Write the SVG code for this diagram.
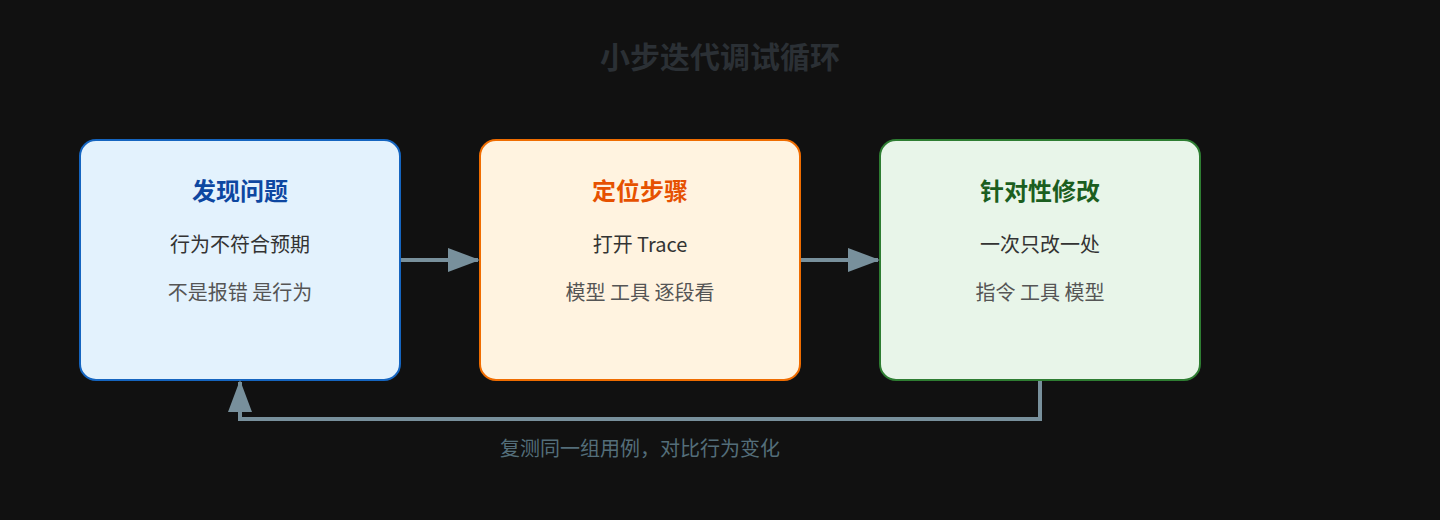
<svg xmlns="http://www.w3.org/2000/svg" width="1440" height="520" viewBox="0 0 1440 520">
<style>
text{font-family:"Noto Sans CJK SC","Noto Sans",sans-serif;text-anchor:middle}
.t{font-size:24px;font-weight:bold}
.l1{font-size:20px;fill:#333}
.l2{font-size:20px;fill:#555}
.c{stroke:#78909c;stroke-width:4;fill:none}
</style>
<defs>
<marker id="a" markerWidth="8" markerHeight="6" refX="7.5" refY="3" orient="auto" markerUnits="strokeWidth"><path d="M0,0L8,3L0,6Z" fill="#78909c" stroke="none"/></marker>
</defs>
<rect width="1440" height="520" fill="#111"/>
<text x="720" y="68" font-size="30" font-weight="bold" fill="#2b3035">小步迭代调试循环</text>
<g id="n1"><rect x="80" y="140" width="320" height="240" rx="16" fill="#e3f2fd" stroke="#1565c0" stroke-width="2"/>
<text class="t" x="240" y="200" fill="#0d47a1">发现问题</text><text class="l1" x="240" y="252">行为不符合预期</text><text class="l2" x="240" y="300">不是报错 是行为</text></g>
<g id="n2"><rect x="480" y="140" width="320" height="240" rx="16" fill="#fff3e0" stroke="#ef6c00" stroke-width="2"/>
<text class="t" x="640" y="200" fill="#e65100">定位步骤</text><text class="l1" x="640" y="252">打开 Trace</text><text class="l2" x="640" y="300">模型 工具 逐段看</text></g>
<g id="n3"><rect x="880" y="140" width="320" height="240" rx="16" fill="#e8f5e9" stroke="#2e7d32" stroke-width="2"/>
<text class="t" x="1040" y="200" fill="#1b5e20">针对性修改</text><text class="l1" x="1040" y="252">一次只改一处</text><text class="l2" x="1040" y="300">指令 工具 模型</text></g>
<g id="connectors">
<path class="c" d="M401,260H478" marker-end="url(#a)"/>
<path class="c" d="M801,260H878" marker-end="url(#a)"/>
<path class="c" d="M1040,381V419H240V382" marker-end="url(#a)"/>
<text x="640" y="456" font-size="20" fill="#546e7a">复测同一组用例，对比行为变化</text>
</g>
</svg>
